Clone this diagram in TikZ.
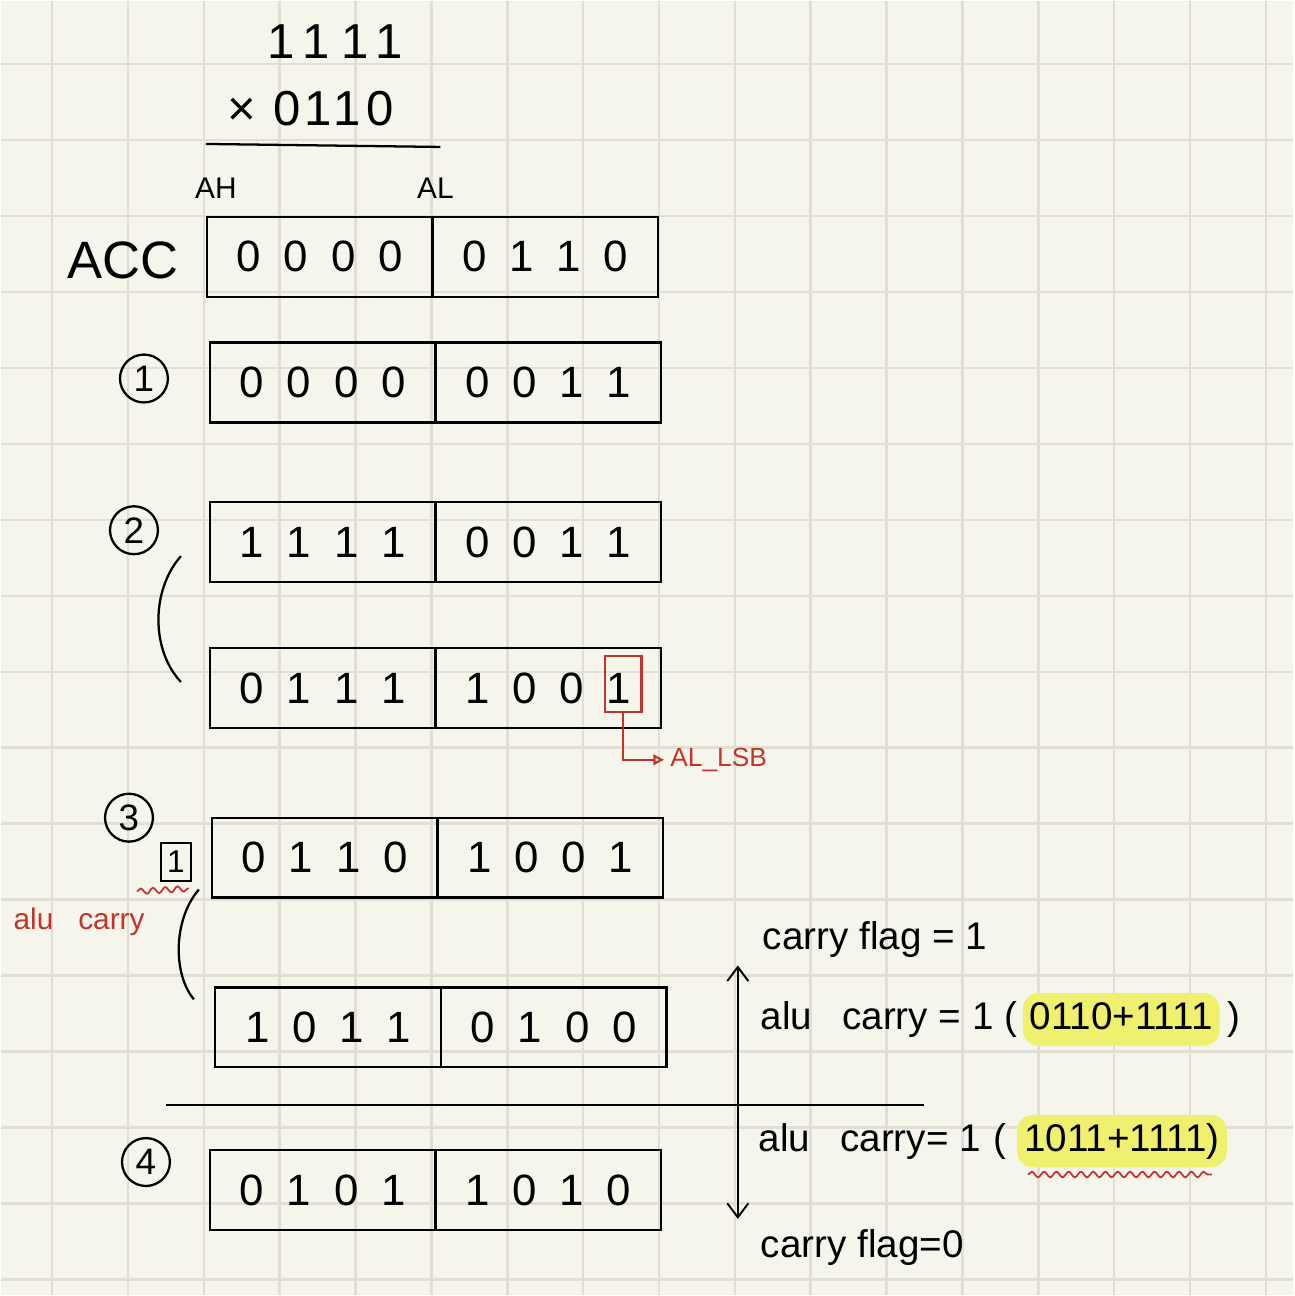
\documentclass[tikz,border=0pt]{standalone}
\usepackage{fontspec}
\setmainfont{Liberation Sans}
\usepackage{xcolor}
\usepackage{tikz}
\usetikzlibrary{
  arrows.meta,
  positioning,
  calc,
  decorations.pathmorphing,
}

\definecolor{paper}{RGB}{246,245,236}
\definecolor{gridline}{RGB}{225,223,212}
\definecolor{penred}{RGB}{196,52,42}
\definecolor{marker}{RGB}{238,240,110}

\newcommand{\nib}[4]{#1\hspace{13pt}#2\hspace{13pt}#3\hspace{13pt}#4}

\begin{document}
\begin{tikzpicture}[
  x=0.02cm, y=-0.02cm,
  line width=1.3pt,
  every node/.style={align=center, inner sep=0pt},
  half/.style={draw, outer sep=0pt, minimum width=4.52cm, minimum height=1.6cm,
    font=\fontsize{25}{28}\selectfont},
  stepno/.style={draw, circle, minimum size=0.96cm, font=\fontsize{21}{24}\selectfont},
  note/.style={anchor=west, text height=17pt, text depth=5pt,
    font=\fontsize{22}{26}\selectfont},
  hl/.style={fill=marker, rounded corners=9pt, inner xsep=4pt, inner ysep=4pt,
    text height=17pt, text depth=5pt, font=\fontsize{22}{26}\selectfont},
  rednote/.style={text=penred, font=\fontsize{17}{20}\selectfont},
  wavy/.style={draw=penred, line width=1pt, decorate,
    decoration={snake, amplitude=1.6pt, segment length=7pt}},
  barb/.style={-{Straight Barb[length=8pt, width=12pt]}, line width=1.1pt},
]

% paper
\fill[paper] (0,0) rectangle (1294,1296);
\foreach \i in {0,...,16} {
  \draw[gridline, line width=1.4pt] ({51+76*\i},0) -- ({51+76*\i},1296);
  \draw[gridline, line width=1.4pt] (0,{63+76.1*\i}) -- (1294,{63+76.1*\i});
}
\useasboundingbox (0,0) rectangle (1294,1296);

% 1111 x 0110
\node[font=\fontsize{28}{30}\selectfont] (mcand) at (335,40) {1\hspace{4pt}1\hspace{7pt}1\hspace{4pt}1};
\node[font=\fontsize{28}{30}\selectfont] (mplier) at (310,108) {×\hspace{10pt}0\hspace{2pt}1\hspace{1pt}1\hspace{3pt}0};
\coordinate (barL) at (205,143);
\coordinate (barR) at (440,146);
\draw (barL) -- (barR);

\node[font=\fontsize{17}{20}\selectfont] (ahlbl) at (215,187) {AH};
\node[font=\fontsize{17}{20}\selectfont] (allbl) at (435,187) {AL};
\node[font=\fontsize{30}{34}\selectfont] (acclbl) at (122,260) {ACC};

% registers
\node[half] (accH) at (319,256) {\nib0000};
\node[half, right=0pt of accH] (accL) {\nib0110};

\node[stepno] (s1) at (143,378) {1};
\node[half] (r1H) at (322,382) {\nib0000};
\node[half, right=0pt of r1H] (r1L) {\nib0011};

\node[stepno] (s2) at (133,530) {2};
\node[half] (r2aH) at (322,542) {\nib1111};
\node[half, right=0pt of r2aH] (r2aL) {\nib0011};
\node[half] (r2bH) at (322,688) {\nib0111};
\node[half, right=0pt of r2bH] (r2bL) {\nib1001};
\draw (180,556) .. controls (150,590) and (150,650) .. (180,682);

\node[stepno] (s3) at (128,818) {3};
\node[half] (r3aH) at (324,858) {\nib0110};
\node[half, right=0pt of r3aH] (r3aL) {\nib1001};
\node[half] (r3bH) at (327.5,1028) {\nib1011};
\node[half, right=0pt of r3bH] (r3bL) {\nib0100};
\draw (198,890) .. controls (172,920) and (172,975) .. (193,1000);

\node[stepno] (s4) at (145,1163) {4};
\node[half] (r4H) at (322,1191) {\nib0101};
\node[half, right=0pt of r4H] (r4L) {\nib1010};

% carry bit
\node[draw, line width=1.1pt, minimum width=0.6cm, minimum height=0.76cm,
  font=\fontsize{18}{20}\selectfont] (cbit) at (175,862) {1};
\draw[wavy] (136,892) -- (188,889);
\node[rednote] (alunote) at (78,922) {alu\hspace{0.5cm}carry};

% AL LSB
\node[draw=penred, line width=1.2pt, minimum width=0.74cm, minimum height=1.12cm] (lsb) at (623,684) {};
\node[rednote, anchor=west, font=\fontsize{15}{18}\selectfont, inner xsep=3pt] (lsbtxt) at (664,760) {AL\_LSB};
\draw[penred, line width=1.2pt, -{Triangle[open, length=6pt, width=6pt]}] (lsb.south) |- (lsbtxt.west);

% step 3 to step 4
\coordinate (ruleL) at (165,1106);
\coordinate (ruleR) at (925,1106);
\draw (ruleL) -- (ruleR);
\coordinate (pivot) at (738,1106);
\coordinate (upEnd) at (738,966);
\coordinate (downEnd) at (738,1220);
\draw[barb] (pivot) -- (upEnd);
\draw[barb] (pivot) -- (downEnd);

\node[note] (flagOne) at (762,940) {carry flag = 1};
\node[note] (aluOne) at (760,1020) {alu\hspace{0.6cm}carry = 1 (};
\node[hl, right=2pt of aluOne] (sumOne) {0110+1111};
\node[note, right=3pt of sumOne] (closeOne) {)};

\node[note] (aluTwo) at (758,1142) {alu\hspace{0.6cm}carry= 1\hspace{0.25cm}(};
\node[hl, right=5pt of aluTwo] (sumTwo) {1011+1111)};
\draw[wavy] ($(sumTwo.south west)+(12,6)$) -- ($(sumTwo.south east)+(-16,6)$);

\node[note] (flagZero) at (760,1248) {carry flag=0};

\end{tikzpicture}
\end{document}
